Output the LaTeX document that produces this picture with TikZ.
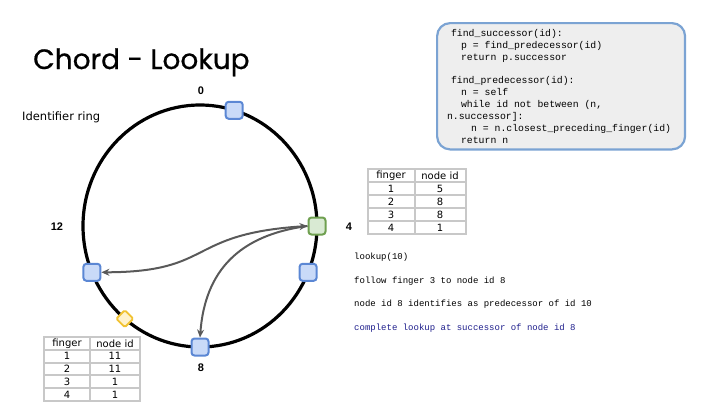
\documentclass[tikz,border=0pt]{standalone}
\usepackage{fontspec}
\setmainfont{DejaVu Sans}
\newfontfamily\titlefont{Poppins}[FakeBold=0.6]
\newfontfamily\labelfont{Liberation Sans}
\newfontfamily\codefont{Liberation Mono}
\usetikzlibrary{arrows.meta}
\definecolor{peerfill}{HTML}{C9DAF8}
\definecolor{peerline}{HTML}{5B87D4}
\definecolor{startfill}{HTML}{D9EAD3}
\definecolor{startline}{HTML}{6FA050}
\definecolor{keyfill}{HTML}{FFF2CC}
\definecolor{keyline}{HTML}{F1C232}
\definecolor{boxline}{HTML}{7BA3D3}
\definecolor{boxfill}{HTML}{EEEEEE}
\definecolor{cellline}{HTML}{C8C8C8}
\definecolor{linkgray}{HTML}{595959}
\definecolor{stepblue}{HTML}{1F1F8C}

\begin{document}
\begin{tikzpicture}[x=1pt,y=-1pt,
		peer/.style={draw=peerline, fill=peerfill, line width=2pt, rounded corners=3pt, minimum size=17pt, inner sep=0pt},
		startpeer/.style={peer, draw=startline, fill=startfill},
		keypoint/.style={draw=keyline, fill=keyfill, line width=1.8pt, rounded corners=1.5pt, rotate=45, minimum size=12pt, inner sep=0pt},
		ringlabel/.style={font=\labelfont\bfseries\fontsize{11}{13}\selectfont},
		cell/.style={draw=cellline, fill=white, line width=2pt, minimum height=13pt, inner sep=0pt, font=\fontsize{10}{11}\selectfont},
		stepline/.style={anchor=base west, inner sep=0pt, font=\codefont\fontsize{9}{11}\selectfont},
		link/.style={draw=linkgray, line width=2pt, -{Stealth[length=8pt,width=7pt]}}]
	\useasboundingbox (0,0) rectangle (720,405);

	\node[anchor=base west, inner sep=0pt, font=\titlefont\fontsize{28}{32}\selectfont] (title) at (33,69) {Chord - Lookup};
	\node[anchor=base west, inner sep=0pt, font=\fontsize{11.5}{13}\selectfont] (ringname) at (22,120) {Identifier ring};

	\coordinate (c) at (200,226);
	\draw[line width=3.2pt] (c) ellipse [x radius=117, y radius=121];
	\begin{scope}[shift={(c)}]
		\foreach \ang/\id/\kind in {-73/1/peer, 0/4/startpeer, 22.5/5/peer, 90/8/peer, 130/10/keypoint, 157.5/11/peer}
			\node[\kind] (n\id) at (\ang:117 and 121) {};
	\end{scope}

	\node[ringlabel] (l0) at (201,91) {0};
	\node[ringlabel] (l4) at (349,227) {4};
	\node[ringlabel] (l8) at (201,368) {8};
	\node[ringlabel] (l12) at (57,227) {12};

	\draw[link, {Stealth[length=8pt,width=7pt]}-{Stealth[length=8pt,width=7pt]}] (n11.east) .. controls (215,272) and (185,234) .. (n4.west);
	\draw[link] (n4.west) .. controls (240,235) and (205,270) .. (n8.north);

	\node[draw=boxline, fill=boxfill, line width=2.2pt, rounded corners=13pt, anchor=north west, align=left, inner xsep=14pt, inner ysep=6pt,
		font=\codefont\fontsize{9.8}{11.9}\selectfont] (code) at (436,22) {%
		find\_successor(id):\\
		\hspace*{10pt}p = find\_predecessor(id)\\
		\hspace*{10pt}return p.successor\\
		\mbox{}\\
		find\_predecessor(id):\\
		\hspace*{10pt}n = self\\
		\hspace*{10pt}while id not between (n,\\
		\hspace*{-4pt}n.successor]:\\
		\hspace*{20pt}n = n.closest\_preceding\_finger(id)\\
		\hspace*{10pt}return n};

	\foreach \row/\finger/\succ in {0/finger/node id, 1/1/5, 2/2/8, 3/3/8, 4/4/1}
	{
		\node[cell, minimum width=47pt] (fa\row) at (391,{175.5+13*\row}) {\finger};
		\node[cell, minimum width=51pt] (sa\row) at (440,{175.5+13*\row}) {\succ};
	}
	\foreach \row/\finger/\succ in {0/finger/node id, 1/1/11, 2/2/11, 3/3/1, 4/4/1}
	{
		\node[cell, minimum width=46pt] (fb\row) at (67,{343.5+12.8*\row}) {\finger};
		\node[cell, minimum width=50pt] (sb\row) at (115,{343.5+12.8*\row}) {\succ};
	}

	\node[stepline] (s1) at (354,259) {lookup(10)};
	\node[stepline] (s2) at (354,283) {follow finger 3 to node id 8};
	\node[stepline] (s3) at (354,306) {node id 8 identifies as predecessor of id 10};
	\node[stepline, text=stepblue] (s4) at (354,330) {complete lookup at successor of node id 8};
\end{tikzpicture}
\end{document}
